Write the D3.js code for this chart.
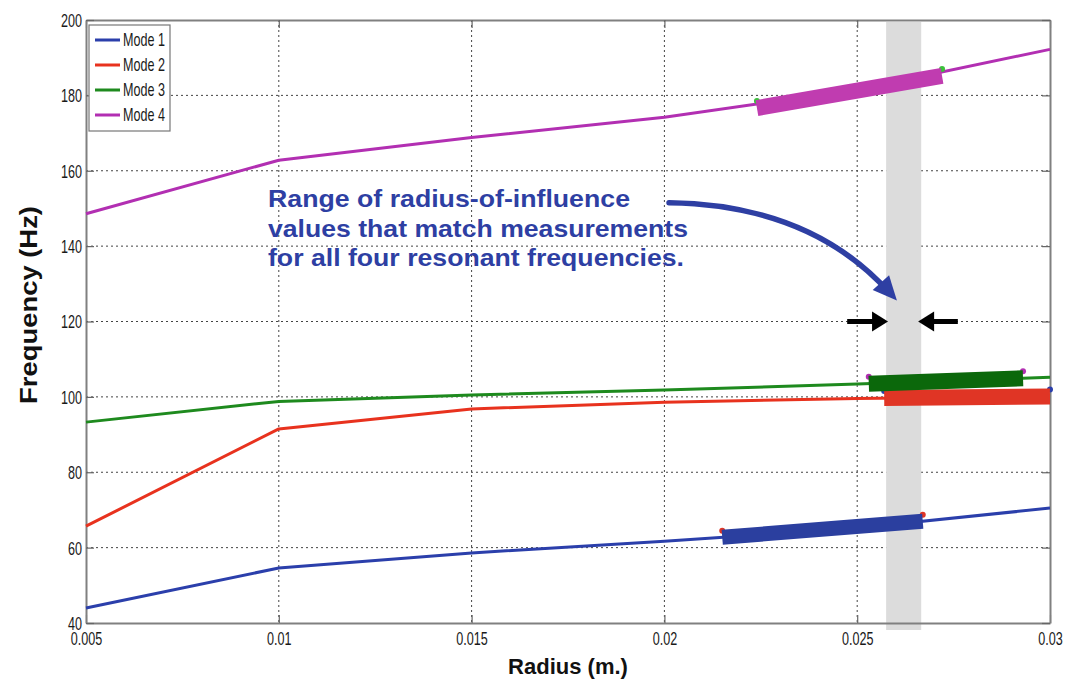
<!DOCTYPE html>
<html><head><meta charset="utf-8">
<script src="https://cdn.jsdelivr.net/npm/d3@7"></script>
<style>
html,body{margin:0;padding:0;background:#fff;}
svg{display:block;}
</style></head>
<body>
<svg id="chart" width="1065" height="685"></svg>
<script>
// ---- data ----
const radius = [0.005, 0.01, 0.015, 0.02, 0.025, 0.03];
const mode1 = [44.0, 54.6, 58.6, 61.7, 65.2, 70.5];
const mode2 = [65.7, 91.5, 96.8, 98.6, 99.6, 100.1];
const mode3 = [93.3, 98.8, 100.5, 101.8, 103.4, 105.2];
const mode4 = [148.6, 162.8, 168.8, 174.2, 181.5, 192.2];
const seriesNames = ["Mode 1", "Mode 2", "Mode 3", "Mode 4"];
const seriesColors = ["#2b3fab", "#e8321e", "#1e8a1e", "#b22fb2"];
// matched-range thick segments [r0, r1] for each mode
const matchStart = [0.0215, 0.0257, 0.0253, 0.0224];
const matchEnd   = [0.0267, 0.0300, 0.0293, 0.0272];
const matchColors = ["#2b3f9f", "#e03525", "#0b680b", "#c03cb0"];
const matchDotColors = ["#e03525", "#2b3fab", "#b22fb2", "#3cc03c"];
const band = [0.02575, 0.02666];
const xTicks = [0.005, 0.01, 0.015, 0.02, 0.025, 0.03];
const xTickLabels = ["0.005", "0.01", "0.015", "0.02", "0.025", "0.03"];
const yTicks = [40, 60, 80, 100, 120, 140, 160, 180, 200];
const noteLines = ["Range of radius-of-influence", "values that match measurements", "for all four resonant frequencies."];

// ---- layout ----
const svg = d3.select("#chart");
const L = 86, R = 1050, T = 20, B = 623;
const x = d3.scaleLinear().domain([0.005, 0.03]).range([L, R]);
const y = d3.scaleLinear().domain([40, 200]).range([B, T]);
const tickFont = "'Liberation Sans',Arial,sans-serif";
const SX = 0.7; // condensed look

// grid
const grid = svg.append("g");
xTicks.slice(1, -1).forEach(t => {
  grid.append("line").attr("x1", x(t)).attr("x2", x(t)).attr("y1", T).attr("y2", B)
    .attr("stroke", "#444").attr("stroke-width", 1).attr("stroke-dasharray", "2,3");
});
yTicks.slice(1, -1).forEach(t => {
  grid.append("line").attr("x1", L).attr("x2", R).attr("y1", y(t)).attr("y2", y(t))
    .attr("stroke", "#444").attr("stroke-width", 1).attr("stroke-dasharray", "2,3");
});

// band
svg.append("rect").attr("x", x(band[0])).attr("width", x(band[1]) - x(band[0]))
  .attr("y", T + 2).attr("height", B - T + 5).attr("fill", "#dcdcdc");

// axes
const xAxisB = d3.axisBottom(x).tickValues(xTicks).tickFormat((d, i) => xTickLabels[i]).tickSizeInner(-8).tickSizeOuter(0).tickPadding(0);
const xAxisT = d3.axisTop(x).tickValues(xTicks).tickFormat("").tickSizeInner(-8).tickSizeOuter(0);
const yAxisL = d3.axisLeft(y).tickValues(yTicks).tickSizeInner(-8).tickSizeOuter(0);
const yAxisR = d3.axisRight(y).tickValues(yTicks).tickFormat("").tickSizeInner(-8).tickSizeOuter(0);
function styleAxis(g) {
  g.select(".domain").attr("stroke", "#808080").attr("stroke-width", 2);
  g.selectAll(".tick line").attr("stroke", "#666").attr("stroke-width", 1.2);
  g.selectAll("text").attr("font-family", tickFont).attr("font-size", 18).attr("fill", "#1a1a1a");
}
const gxb = svg.append("g").attr("transform", `translate(0,${B})`).call(xAxisB).call(styleAxis);
gxb.selectAll(".tick text").attr("y", 0).attr("dy", null).attr("transform", `translate(0,22) scale(${SX},1)`);
svg.append("g").attr("transform", `translate(0,${T})`).call(xAxisT).call(styleAxis);
const gyl = svg.append("g").attr("transform", `translate(${L},0)`).call(yAxisL).call(styleAxis);
gyl.selectAll(".tick text").attr("x", 0).attr("dy", "0.36em").attr("transform", `translate(-4,0) scale(${SX},1)`);
svg.append("g").attr("transform", `translate(${R},0)`).call(yAxisR).call(styleAxis);

// lines
const allModes = [mode1, mode2, mode3, mode4];
const line = d3.line().x((d, i) => x(radius[i])).y(d => y(d));
allModes.forEach((m, k) => {
  svg.append("path").datum(m).attr("d", line).attr("fill", "none")
    .attr("stroke", seriesColors[k]).attr("stroke-width", 3).attr("stroke-linejoin", "round");
});

// thick matching segments (straight bars)
function valAt(m, r) {
  return d3.scaleLinear().domain(radius).range(m)(r);
}
const barW = [15, 16, 16, 16];
const barShift = [0, 0, 0, 4]; // px offset below the curve
allModes.forEach((m, k) => {
  const r0 = matchStart[k], r1 = matchEnd[k];
  [r0, r1].forEach(r => {
    svg.append("circle").attr("cx", x(r)).attr("cy", y(valAt(m, r)) - barW[k] / 2 + 1 + barShift[k]).attr("r", 3).attr("fill", matchDotColors[k]);
  });
  svg.append("line").attr("x1", x(r0)).attr("y1", y(valAt(m, r0)) + barShift[k]).attr("x2", x(r1)).attr("y2", y(valAt(m, r1)) + barShift[k])
    .attr("stroke", matchColors[k]).attr("stroke-width", barW[k]).attr("stroke-linecap", "butt");
});

// legend
const lg = svg.append("g");
lg.append("rect").attr("x", 89).attr("y", 25).attr("width", 81).attr("height", 106)
  .attr("fill", "#fff").attr("stroke", "#777").attr("stroke-width", 1.2);
seriesNames.forEach((n, k) => {
  const yy = 40 + k * 25;
  lg.append("line").attr("x1", 95).attr("x2", 120).attr("y1", yy).attr("y2", yy)
    .attr("stroke", seriesColors[k]).attr("stroke-width", 3);
  lg.append("text").attr("transform", `translate(123,${yy + 6}) scale(${SX},1)`).text(n)
    .attr("font-family", tickFont).attr("font-size", 18).attr("fill", "#1a1a1a");
});

// axis titles
svg.append("text").attr("x", 568).attr("y", 674).attr("text-anchor", "middle")
  .attr("font-family", "'Liberation Sans',Arial,sans-serif").attr("font-weight", "bold").attr("font-size", 22)
  .attr("fill", "#111").text("Radius (m.)");
svg.append("text").attr("transform", `translate(37,305) rotate(-90)`).attr("text-anchor", "middle")
  .attr("font-family", "'Liberation Sans',Arial,sans-serif").attr("font-weight", "bold").attr("font-size", 24)
  .attr("textLength", 198).attr("lengthAdjust", "spacingAndGlyphs")
  .attr("fill", "#111").text("Frequency (Hz)");

// annotation
const noteColor = "#2e3fa3";
const noteWidths = [362, 420, 416];
noteLines.forEach((t, i) => {
  svg.append("text").attr("x", x(0.00972)).attr("y", 207 + i * 29.5).text(t)
    .attr("font-family", "'Liberation Sans',Arial,sans-serif").attr("font-weight", "bold")
    .attr("font-size", 24).attr("textLength", noteWidths[i]).attr("lengthAdjust", "spacingAndGlyphs")
    .attr("fill", noteColor);
});
// curved arrow (data coordinates)
const a0 = [0.02012, 151.5], ac = [0.0238, 151.0], a1 = [0.02585, 127.5], tip = [0.02603, 125.6];
const p0 = [x(a0[0]), y(a0[1])], pc = [x(ac[0]), y(ac[1])], p1 = [x(a1[0]), y(a1[1])], pt = [x(tip[0]), y(tip[1])];
svg.append("path").attr("d", `M${p0[0]},${p0[1]} Q${pc[0]},${pc[1]} ${p1[0]},${p1[1]}`)
  .attr("fill", "none").attr("stroke", noteColor).attr("stroke-width", 5.5).attr("stroke-linecap", "round");
(function () {
  const dx = pt[0] - pc[0], dy = pt[1] - pc[1];
  const len = Math.hypot(dx, dy), ux = dx / len, uy = dy / len;
  const hl = 24, hw = 11;
  const bx = pt[0] - ux * hl, by = pt[1] - uy * hl;
  svg.append("polygon").attr("points", [[pt[0], pt[1]], [bx - uy * hw, by + ux * hw], [bx + uy * hw, by - ux * hw]].map(p => p.join(",")).join(" "))
    .attr("fill", noteColor);
})();
// black arrows
function hArrow(rTail, rTip, v) {
  const xt = x(rTail), xp = x(rTip), yy = y(v);
  const dir = Math.sign(xp - xt);
  svg.append("line").attr("x1", xt).attr("x2", xp - dir * 12).attr("y1", yy).attr("y2", yy)
    .attr("stroke", "#000").attr("stroke-width", 5);
  svg.append("polygon").attr("points", `${xp},${yy} ${xp - dir * 16},${yy - 10} ${xp - dir * 16},${yy + 10}`).attr("fill", "#000");
}
hArrow(0.02474, 0.0258, 120);
hArrow(0.02761, 0.02658, 120);
</script>
</body></html>
